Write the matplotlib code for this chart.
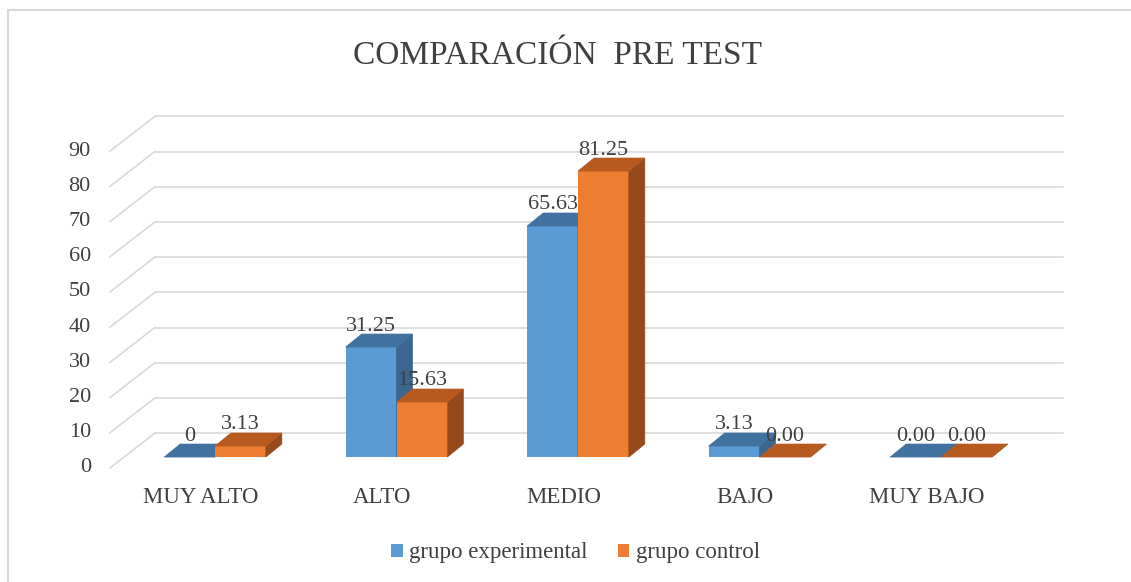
import matplotlib
matplotlib.use("Agg")
import matplotlib.pyplot as plt
from matplotlib.patches import Polygon, Patch
from matplotlib.lines import Line2D
import numpy as np

plt.rcParams['font.family'] = ['Liberation Serif', 'DejaVu Serif']

# datos
categorias = ["MUY ALTO", "ALTO", "MEDIO", "BAJO", "MUY BAJO"]
experimental = [0, 31.25, 65.63, 3.13, 0.00]
control = [3.13, 15.63, 81.25, 0.00, 0.00]
etiq_exp = ["0", "31.25", "65.63", "3.13", "0.00"]
etiq_ctrl = ["3.13", "15.63", "81.25", "0.00", "0.00"]
ticks_y = list(range(0, 100, 10))

# colores
azul, azul_top, azul_lado = '#5B9BD5', '#41729F', '#3A6690'
naranja, naranja_top, naranja_lado = '#ED7D31', '#B65A20', '#964A1B'
gris = '#D9D9D9'
texto = '#404040'

# efecto 3D (unidades de datos)
ancho = 0.28
bdx, bdy = 0.088, 3.7          # profundidad de la barra
fdx, fdy = 0.248, 9.9          # profundidad del piso
piso_y = -3.1                  # frente del piso
muro_x0, muro_x1 = -0.331, 4.672
diag_x0 = -0.579

fig = plt.figure(figsize=(11.31, 5.82), dpi=100)
ax = fig.add_axes([0.0858, 0.1663, 0.8666, 0.6653])
ax.set_xlim(-0.65, 4.75)
ax.set_ylim(-8, 102)
ax.axis('off')

# rejilla
for v in ticks_y:
    yb = v + piso_y + fdy
    ax.plot([muro_x0, muro_x1], [yb, yb], color=gris, lw=1.2, zorder=1)
    ax.plot([diag_x0, diag_x0 + fdx], [v + piso_y, yb], color=gris, lw=1.2, zorder=1)
    ax.text(diag_x0 - 0.105, v + piso_y, str(v), ha='right', va='center',
            fontsize=16, color=texto)

x = np.arange(len(categorias))


def caras(x0, h, top_c, side_c, z):
    top = Polygon([(x0, h), (x0 + ancho, h), (x0 + ancho + bdx, h + bdy), (x0 + bdx, h + bdy)],
                  closed=True, facecolor=top_c, edgecolor=top_c, lw=0.5, zorder=z)
    side = Polygon([(x0 + ancho, 0), (x0 + ancho + bdx, bdy), (x0 + ancho + bdx, h + bdy), (x0 + ancho, h)],
                   closed=True, facecolor=side_c, edgecolor=side_c, lw=0.5, zorder=z)
    ax.add_patch(side)
    ax.add_patch(top)


for i in x:
    z = 3 + i * 4
    ax.bar(i - ancho, experimental[i], width=ancho, align='edge', color=azul, zorder=z)
    caras(i - ancho, experimental[i], azul_top, azul_lado, z)
    ax.bar(i, control[i], width=ancho, align='edge', color=naranja, zorder=z + 2)
    caras(i, control[i], naranja_top, naranja_lado, z + 2)

for i in x:
    ax.text(i - ancho / 2, experimental[i] + bdy + 1.0, etiq_exp[i], ha='center',
            va='baseline', fontsize=16, color=texto, zorder=50)
    ax.text(i + ancho / 2, control[i] + bdy + 1.0, etiq_ctrl[i], ha='center',
            va='baseline', fontsize=16, color=texto, zorder=50)
    ax.text(i - 0.078, -11.6, categorias[i], ha='center', va='center',
            fontsize=16.5, color=texto)

fig.text(0.493, 0.904, "COMPARACIÓN  PRE TEST", ha='center', va='center',
         fontsize=24, color=texto)

handles = [Patch(facecolor=azul, label='grupo experimental'),
           Patch(facecolor=naranja, label='grupo control')]
fig.legend(handles=handles, loc='center', bbox_to_anchor=(0.509, 0.05), ncol=2,
           frameon=False, fontsize=16.5, handlelength=0.5, handleheight=0.5,
           handletextpad=0.3, columnspacing=1.3, labelcolor=texto)

# borde del grafico
fig.add_artist(Line2D([8 / 1131, 8 / 1131], [0, 1 - 10 / 582], color=gris, lw=1.5,
                      transform=fig.transFigure))
fig.add_artist(Line2D([8 / 1131, 1], [1 - 10 / 582, 1 - 10 / 582], color=gris, lw=1.5,
                      transform=fig.transFigure))

fig.savefig('out.png', dpi=100)
